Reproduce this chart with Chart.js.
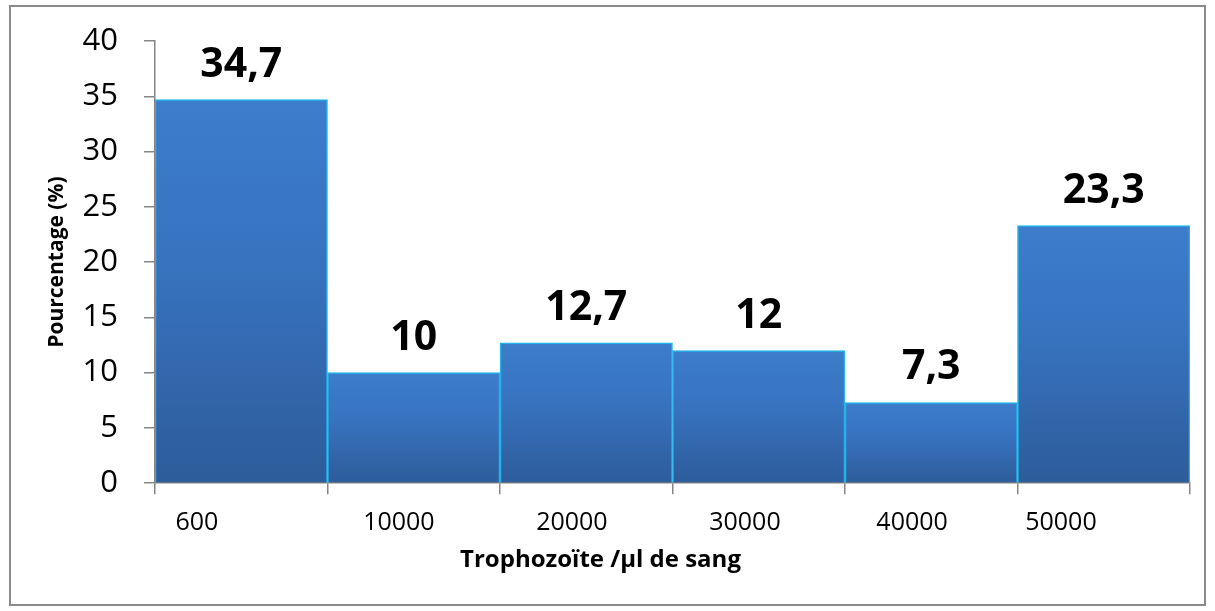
<!DOCTYPE html>
<html>
<head>
<meta charset="utf-8">
<script src="https://cdn.jsdelivr.net/npm/chart.js@4/dist/chart.umd.min.js"></script>
<style>
  html, body { margin: 0; padding: 0; background: #fff; }
  #wrap { position: absolute; left: 9px; top: 5px; width: 1197px; height: 601px;
          border: 2px solid #8a8a8a; box-sizing: border-box; background: #fff; }
</style>
</head>
<body>
<div id="wrap"><canvas id="c"></canvas></div>
<script>
// ---- data ----
const categories = ['600', '10000', '20000', '30000', '40000', '50000'];
const percentages = [34.7, 10, 12.7, 12, 7.3, 23.3];
const yTicks = [0, 5, 10, 15, 20, 25, 30, 35, 40];
// label placement along the category axis (in category units, 0..6)
const labelPos = [0.243, 1.414, 2.417, 3.42, 4.389, 5.252];

const FONT = "'Open Sans', 'DejaVu Sans', sans-serif";
const AXIS_GRAY = '#868686';

const valueLabelPlugin = {
  id: 'valueLabels',
  afterDatasetsDraw(chart) {
    const meta = chart.getDatasetMeta(0);
    const ctx = chart.ctx;
    ctx.save();
    ctx.font = "bold 41px " + FONT;
    ctx.fillStyle = '#000';
    ctx.textAlign = 'center';
    ctx.textBaseline = 'alphabetic';
    meta.data.forEach((bar, i) => {
      const txt = String(percentages[i]).replace('.', ',');
      ctx.fillText(txt, bar.x, bar.y - 23);
    });
    ctx.restore();
  }
};

Chart.defaults.color = '#000';
Chart.defaults.font.family = FONT;

new Chart(document.getElementById('c'), {
  type: 'bar',
  data: {
    labels: categories,
    datasets: [{
      data: percentages,
      xAxisID: 'x',
      yAxisID: 'y',
      barPercentage: 1,
      categoryPercentage: 1,
      borderColor: '#1fb5ec',
      borderWidth: 1.5,
      backgroundColor: (c) => {
        const chart = c.chart;
        const area = chart.chartArea;
        if (!area || c.type !== 'data' || !chart.scales.y) return '#3570b8';
        const ys = chart.scales.y;
        const top = ys.getPixelForValue(c.raw);
        const base = ys.getPixelForValue(0);
        const g = chart.ctx.createLinearGradient(0, top, 0, base);
        g.addColorStop(0, '#3c7dcc');
        g.addColorStop(0.45, '#3772be');
        g.addColorStop(1, '#2d5c9a');
        return g;
      }
    }]
  },
  options: {
    responsive: true,
    maintainAspectRatio: false,
    animation: false,
    layout: { padding: { left: 0, right: 14, top: 34, bottom: 29 } },
    plugins: {
      legend: { display: false },
      tooltip: { enabled: false },
      title: {
        display: true,
        text: 'Trophozoïte /µl de sang',
        position: 'bottom',
        color: '#000',
        font: { family: FONT, size: 24, weight: 'bold' },
        padding: { top: 2, bottom: 0 }
      }
    },
    scales: {
      x: {
        position: 'bottom',
        offset: true,
        grid: { display: true, offset: true, drawOnChartArea: false, drawTicks: true,
                tickLength: 11, color: AXIS_GRAY, lineWidth: 1.5 },
        border: { display: true, color: AXIS_GRAY, width: 1.5 },
        ticks: { display: false },
        afterFit: (a) => { a.height = 11; }
      },
      xl: {
        type: 'linear',
        position: 'bottom',
        offset: false,
        min: 0, max: 6,
        grid: { display: false, drawTicks: false, offset: false },
        border: { display: false },
        afterBuildTicks: (a) => { a.ticks = labelPos.map(v => ({ value: v })); },
        ticks: {
          autoSkip: false, maxRotation: 0, padding: 14,
          font: { family: FONT, size: 25 }, color: '#000',
          callback: (v, i) => categories[i]
        },
        afterFit: (a) => { a.height = 50; a.paddingLeft = 0; a.paddingRight = 0; }
      },
      y: {
        min: 0, max: 40,
        afterBuildTicks: (a) => { a.ticks = yTicks.map(v => ({ value: v })); },
        grid: { display: true, drawOnChartArea: false, drawTicks: true,
                tickLength: 11, color: AXIS_GRAY, lineWidth: 1.5 },
        border: { display: true, color: AXIS_GRAY, width: 1.5 },
        ticks: { padding: 26, font: { family: FONT, size: 31 }, color: '#000' },
        title: {
          display: true, text: 'Pourcentage (%)', color: '#000',
          font: { family: FONT, size: 21, weight: 'bold' },
          padding: { top: 33, bottom: 0 }
        },
        afterFit: (a) => { a.width = 144; a.paddingTop = 0; a.paddingBottom = 0; }
      }
    }
  },
  plugins: [valueLabelPlugin]
});
</script>
</body>
</html>
